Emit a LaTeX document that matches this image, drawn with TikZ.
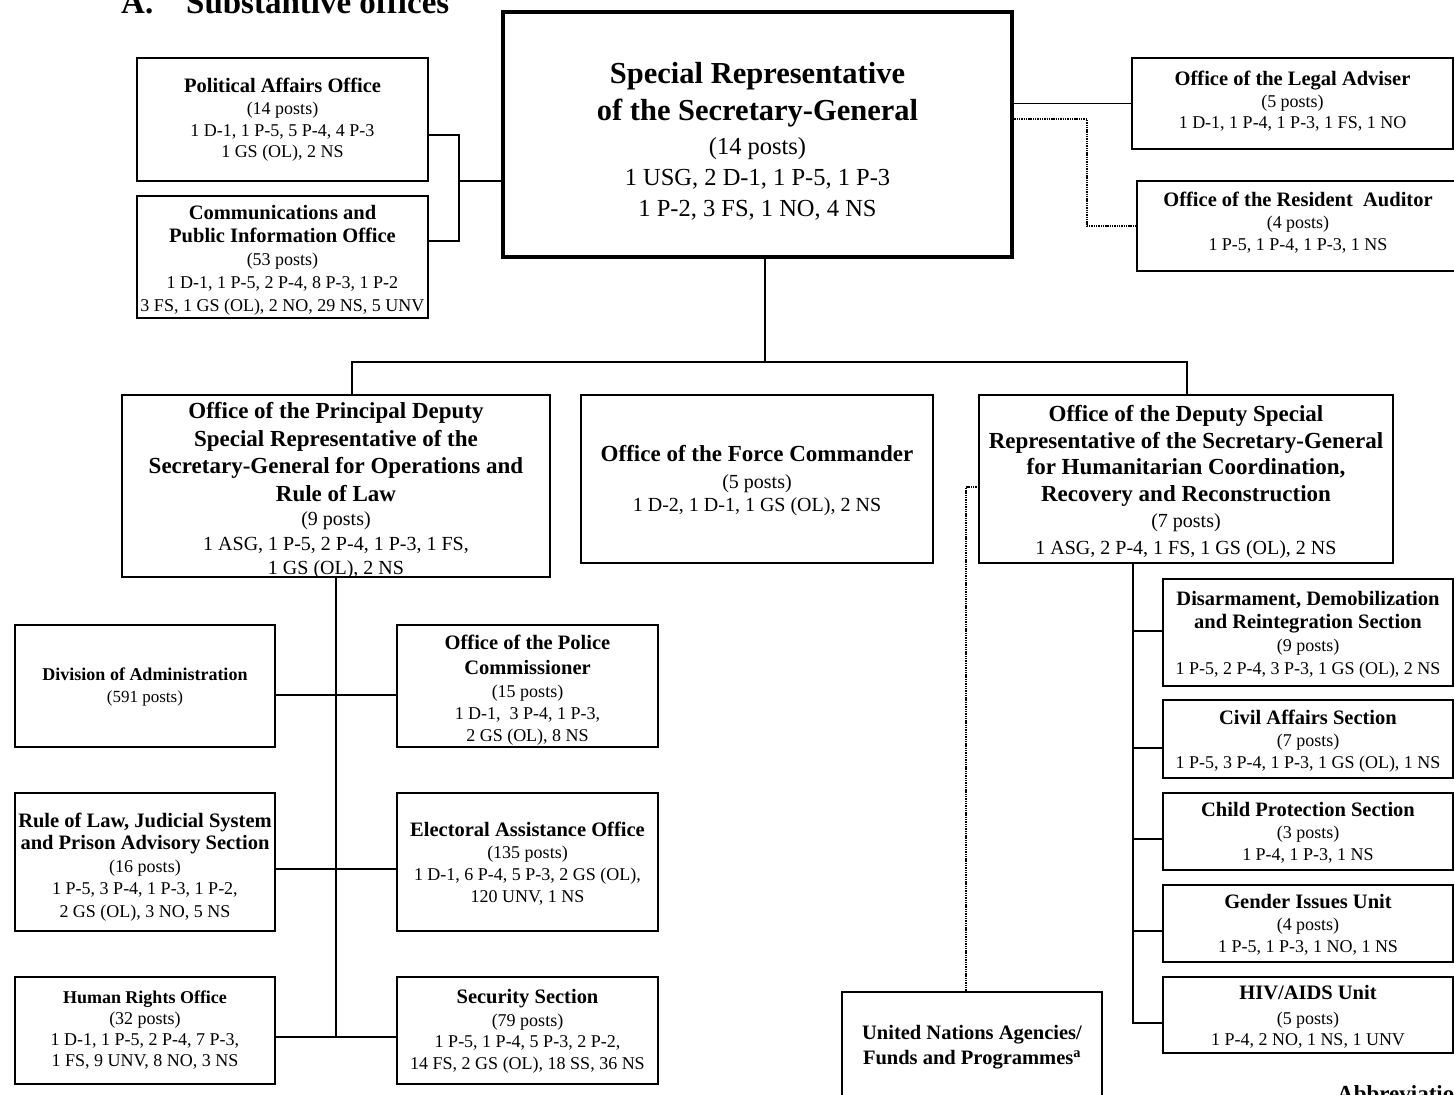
\documentclass[tikz,border=0pt]{standalone}
\usepackage{fontspec}
\setmainfont{Liberation Serif}
\usetikzlibrary{fit,calc}
\newcommand\myttl[1]{{\fontsize{20.5}{20}\selectfont\bfseries #1}}
\newcommand\smlttl[1]{{\fontsize{18}{18}\selectfont\bfseries #1}}
\newcommand\bigttl[1]{{\fontsize{23}{23}\selectfont\bfseries #1}}
\begin{document}
\begin{tikzpicture}[x=1pt,y=-1pt,
  box/.style={draw, line width=1.7pt, inner sep=0pt, outer sep=0pt},
  lbl/.style={align=center, inner sep=0pt},
  conn/.style={line width=1.8pt},
  dotc/.style={line width=2.4pt, dash pattern=on 1.4pt off 0.9pt}]
\clip (0,0) rectangle (1454,1095);
\fill[white] (0,0) rectangle (1454,1095);

% heading
\node[anchor=base west, inner sep=0pt, font=\fontsize{33}{33}\selectfont\bfseries] (tA) at (121,13) {A.};
\node[anchor=base west, inner sep=0pt, font=\fontsize{33}{33}\selectfont\bfseries] (tB) at (186,13) {Substantive offices};

% boxes
\node[box, line width=3.5pt, fit={(503,12) (1012,257)}] (srsg) {};
\node[box, fit={(137,58) (428,181)}] (pol) {};
\node[box, fit={(137,196) (428,318)}] (comm) {};
\node[box, fit={(1132,58) (1453,149)}] (legal) {};
\node[box, fit={(1137,181) (1459,271)}] (aud) {};
\node[box, fit={(122,395) (550,577)}] (pd) {};
\node[box, fit={(581,395) (933,563)}] (fc) {};
\node[box, fit={(979,395) (1393,563)}] (ds) {};
\node[box, fit={(15,625) (275,747)}] (div) {};
\node[box, fit={(397,625) (658,747)}] (pc) {};
\node[box, fit={(15,793) (275,931)}] (rol) {};
\node[box, fit={(397,793) (658,931)}] (ea) {};
\node[box, fit={(15,977) (275,1084)}] (hr) {};
\node[box, fit={(397,977) (658,1084)}] (sec) {};
\node[box, fit={(1163,579) (1453,686)}] (ddr) {};
\node[box, fit={(1163,700) (1453,778)}] (civ) {};
\node[box, fit={(1163,793) (1453,870)}] (chp) {};
\node[box, fit={(1163,885) (1453,962)}] (gen) {};
\node[box, fit={(1163,977) (1453,1053)}] (hiv) {};
\node[box, fit={(842,992) (1102,1130)}] (un) {};

% labels
\node[lbl, font=\fontsize{24.5}{31}\selectfont] (srsg-t) at (757.5,141)
 {{\fontsize{30.5}{30}\selectfont\bfseries Special Representative}\\[6pt]
  {\fontsize{30.5}{30}\selectfont\bfseries of the Secretary-General}\\[3pt]
  (14 posts)\\ 1 USG, 2 D-1, 1 P-5, 1 P-3\\ 1 P-2, 3 FS, 1 NO, 4 NS};
\node[lbl, font=\fontsize{18}{21.7}\selectfont] (pol-t) at (282.5,120)
 {\myttl{Political Affairs Office}\\ (14 posts)\\ 1 D-1, 1 P-5, 5 P-4, 4 P-3\\ 1 GS (OL), 2 NS};
\node[lbl, font=\fontsize{18}{23}\selectfont] (comm-t) at (282.5,260)
 {\myttl{Communications and}\\ \myttl{Public Information Office}\\ (53 posts)\\ 1 D-1, 1 P-5, 2 P-4, 8 P-3, 1 P-2\\ 3 FS, 1 GS (OL), 2 NO, 29 NS, 5 UNV};
\node[lbl, font=\fontsize{18}{21.5}\selectfont] (legal-t) at (1292.5,101.5)
 {\myttl{Office of the Legal Adviser}\\ (5 posts)\\ 1 D-1, 1 P-4, 1 P-3, 1 FS, 1 NO};
\node[lbl, font=\fontsize{18}{22}\selectfont] (aud-t) at (1298,223)
 {\myttl{Office of the Resident\ \ Auditor}\\ (4 posts)\\ 1 P-5, 1 P-4, 1 P-3, 1 NS};
\node[lbl, font=\fontsize{20}{24.5}\selectfont] (pd-t) at (336,491)
 {\bigttl{Office of the Principal Deputy}\\[3pt] \bigttl{Special Representative of the}\\[3pt]
  \bigttl{Secretary-General for Operations and}\\[3pt] \bigttl{Rule of Law}\\ (9 posts)\\
  1 ASG, 1 P-5, 2 P-4, 1 P-3, 1 FS,\\ 1 GS (OL), 2 NS};
\node[lbl, font=\fontsize{20}{23}\selectfont] (fc-t) at (757,481)
 {\bigttl{Office of the Force Commander}\\[4pt] (5 posts)\\ 1 D-2, 1 D-1, 1 GS (OL), 2 NS};
\node[lbl, font=\fontsize{20}{26.5}\selectfont] (ds-t) at (1186,482)
 {\bigttl{Office of the Deputy Special}\\ \bigttl{Representative of the Secretary-General}\\
  \bigttl{for Humanitarian Coordination,}\\ \bigttl{Recovery and Reconstruction}\\ (7 posts)\\
  1 ASG, 2 P-4, 1 FS, 1 GS (OL), 2 NS};
\node[lbl, font=\fontsize{17}{22}\selectfont] (div-t) at (145,687)
 {\smlttl{Division of Administration}\\ (591 posts)};
\node[lbl, font=\fontsize{18}{22}\selectfont] (pc-t) at (527.5,690)
 {\myttl{Office of the Police}\\[3pt] \myttl{Commissioner}\\[1pt] (15 posts)\\ 1 D-1,\ \ 3 P-4, 1 P-3,\\ 2 GS (OL), 8 NS};
\node[lbl, font=\fontsize{18}{22.5}\selectfont] (rol-t) at (145,867)
 {\myttl{Rule of Law, Judicial System}\\ \myttl{and Prison Advisory Section}\\ (16 posts)\\ 1 P-5, 3 P-4, 1 P-3, 1 P-2,\\ 2 GS (OL), 3 NO, 5 NS};
\node[lbl, font=\fontsize{18}{22}\selectfont] (ea-t) at (527.5,864)
 {\myttl{Electoral Assistance Office}\\ (135 posts)\\ 1 D-1, 6 P-4, 5 P-3, 2 GS (OL),\\ 120 UNV, 1 NS};
\node[lbl, font=\fontsize{18}{21}\selectfont] (hr-t) at (145,1030.5)
 {\smlttl{Human Rights Office}\\ (32 posts)\\ 1 D-1, 1 P-5, 2 P-4, 7 P-3,\\ 1 FS, 9 UNV, 8 NO, 3 NS};
\node[lbl, font=\fontsize{18}{21.5}\selectfont] (sec-t) at (527.5,1031)
 {\myttl{Security Section}\\[1.5pt] (79 posts)\\ 1 P-5, 1 P-4, 5 P-3, 2 P-2,\\ 14 FS, 2 GS (OL), 18 SS, 36 NS};
\node[lbl, font=\fontsize{18}{23}\selectfont] (ddr-t) at (1308,635)
 {\myttl{Disarmament, Demobilization}\\ \myttl{and Reintegration Section}\\ (9 posts)\\ 1 P-5, 2 P-4, 3 P-3, 1 GS (OL), 2 NS};
\node[lbl, font=\fontsize{18}{22}\selectfont] (civ-t) at (1308,741)
 {\myttl{Civil Affairs Section}\\ (7 posts)\\ 1 P-5, 3 P-4, 1 P-3, 1 GS (OL), 1 NS};
\node[lbl, font=\fontsize{18}{22}\selectfont] (chp-t) at (1308,833)
 {\myttl{Child Protection Section}\\ (3 posts)\\ 1 P-4, 1 P-3, 1 NS};
\node[lbl, font=\fontsize{18}{22}\selectfont] (gen-t) at (1308,925)
 {\myttl{Gender Issues Unit}\\ (4 posts)\\ 1 P-5, 1 P-3, 1 NO, 1 NS};
\node[lbl, font=\fontsize{18}{21}\selectfont] (hiv-t) at (1308,1017)
 {\myttl{HIV/AIDS Unit}\\[4pt] (5 posts)\\ 1 P-4, 2 NO, 1 NS, 1 UNV};
\node[lbl, font=\fontsize{18}{25}\selectfont] (un-t) at (972,1047.5)
 {\myttl{United Nations Agencies/}\\ \myttl{Funds and Programmes\textsuperscript{a}}};
\node[anchor=base west, inner sep=0pt, font=\fontsize{23}{23}\selectfont\bfseries] (abbr) at (1337,1101) {Abbreviations};

% connectors
\coordinate (brk) at (459,241);
\coordinate (brkm) at (459,181);
\draw[conn] ($(pol.east)+(0,15.5)$) -| (brk) -- (brk -| comm.east);
\draw[conn] (brkm) -- (brkm -| srsg.west);
\draw[conn] (legal.west -| srsg.east) -- (legal.west);
\coordinate (audk) at (1087,226);
\draw[dotc] ($(srsg.east)+(0,-15.5)$) -| (audk) -- (audk -| aud.west);

\coordinate (hub) at (765,362);
\coordinate (hL) at (352,362);
\coordinate (hR) at (1187,362);
\draw[conn] (hub |- srsg.south) -- (hub);
\draw[conn] (hL |- pd.north) -- (hL) -- (hR) -- (hR |- ds.north);

\coordinate (j1) at (336,695);
\coordinate (j2) at (336,869);
\coordinate (j3) at (336,1037);
\draw[conn] (pd.south) -- (j3);
\draw[conn] (j1 -| div.east) -- (j1 -| pc.west);
\draw[conn] (j2 -| rol.east) -- (j2 -| ea.west);
\draw[conn] (j3 -| hr.east) -- (j3 -| sec.west);

\coordinate (r1) at (1133,631);
\coordinate (r2) at (1133,748);
\coordinate (r3) at (1133,839);
\coordinate (r4) at (1133,931);
\coordinate (r5) at (1133,1023);
\draw[conn] (r1 |- ds.south) -- (r5) -- (r5 -| hiv.west);
\draw[conn] (r1) -- (r1 -| ddr.west);
\draw[conn] (r2) -- (r2 -| civ.west);
\draw[conn] (r3) -- (r3 -| chp.west);
\draw[conn] (r4) -- (r4 -| gen.west);

\coordinate (unk) at (966,487);
\draw[dotc] (unk -| ds.west) -- (unk) -- (unk |- un.north);
\end{tikzpicture}
\end{document}
